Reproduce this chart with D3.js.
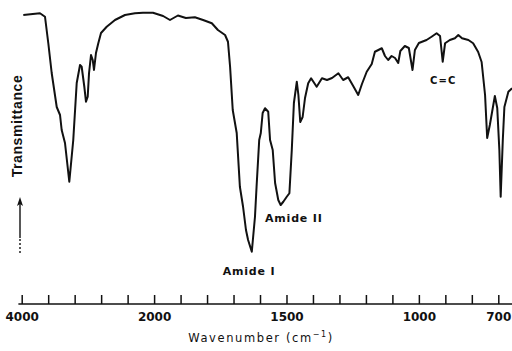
<!DOCTYPE html>
<html>
<head>
<meta charset="utf-8">
<script src="https://cdn.jsdelivr.net/npm/d3@7"></script>
<style>
  body { margin: 0; background: #fff; }
  svg { display: block; }
</style>
</head>
<body>
<div id="chart"></div>
<script>
// spectrum (wavenumber in cm-1, transmittance in arbitrary %)
var wavenumber = [3976, 3724, 3648, 3598, 3547, 3471, 3421, 3396, 3346, 3281,
  3221, 3169, 3119, 3094, 3054, 3029, 3003, 2983, 2953, 2927,
  2908, 2878, 2843, 2802, 2716, 2591, 2440, 2289, 2168, 2017,
  1966, 1940, 1910, 1880, 1846, 1815, 1782, 1759, 1732, 1721,
  1713, 1703, 1688, 1676, 1664, 1653, 1645, 1631, 1619, 1613,
  1603, 1597, 1590, 1581, 1569, 1562, 1552, 1543, 1531, 1522,
  1512, 1499, 1489, 1480, 1472, 1461, 1455, 1448, 1439, 1430,
  1418, 1407, 1386, 1366, 1347, 1328, 1304, 1286, 1267, 1248,
  1229, 1215, 1197, 1178, 1166, 1153, 1140, 1128, 1116, 1103,
  1090, 1078, 1070, 1053, 1038, 1024, 1015, 1000, 971, 952,
  933, 920, 910, 901, 883, 864, 851, 837, 813, 795,
  776, 763, 750, 742, 732, 713, 704, 696, 691, 683,
  677, 662, 648];
var transmittance = [98, 98.7, 97.3, 86.7, 74.8, 61.2, 58, 52, 46.8, 31.3,
  48, 70.8, 78, 77.3, 69.3, 63.3, 65.3, 74.7, 82, 80,
  76, 82.8, 86.7, 90.8, 93.3, 96, 98, 98.7, 98.9, 98.9,
  97.6, 96, 97.8, 96.8, 97.1, 96, 94.7, 92, 90, 87.3,
  77.3, 60, 50.8, 29.3, 21.3, 12, 8, 3.3, 17.3, 29.3,
  48, 50.8, 58.8, 60.7, 59.3, 48, 44, 30.8, 24, 22,
  23.3, 25.3, 26.7, 44, 62.8, 71.3, 66, 55.2, 57.2, 64.8,
  70.7, 72.7, 69.3, 72.7, 72, 72.8, 74.7, 72, 73.1, 69.6,
  66, 70.4, 75.3, 78.4, 83.3, 84, 84.7, 81.6, 80, 81.6,
  80.8, 78.8, 83.6, 85.6, 84.8, 76, 84, 86.8, 88, 89.3,
  90.7, 89.6, 79.3, 86.7, 88, 88.7, 90, 88.7, 88, 86.7,
  83.2, 79.2, 66, 48.8, 54, 65.6, 60.8, 44, 25.3, 48,
  61.2, 67.3, 68.7];

// ticks: every 400 above 2000, every 100 below
var tickValues = [4000, 3600, 3200, 2800, 2400, 2000, 1900, 1800, 1700, 1600,
  1500, 1400, 1300, 1200, 1100, 1000, 900, 800, 700];
var tickLabels = [4000, 2000, 1500, 1000, 700];

// band annotations (where the label text starts)
var bandNames = ["Amide I", "Amide II", "C=C"];
var bandWn = [1741, 1581, 958];
var bandT = [-6, 15.2, 70.4];

var svgWidth = 512;
var svgHeight = 351;
var axisY = 304;

var svg = d3.select("#chart")
  .append("svg")
  .attr("width", svgWidth)
  .attr("height", svgHeight);

// x scale changes at 2000 cm-1 like the instrument chart
var xScale = d3.scaleLinear()
  .domain([4000, 2000, 700])
  .range([21.7, 154.1, 498.3]);

var yScale = d3.scaleLinear()
  .domain([0, 100])
  .range([260, 10]);

var data = wavenumber.map(function(w, i) {
  return { wn: w, t: transmittance[i] };
});

// spectrum
var line = d3.line()
  .x(d => xScale(d.wn))
  .y(d => yScale(d.t));

svg.append("path")
  .datum(data)
  .attr("d", line)
  .attr("fill", "none")
  .attr("stroke", "#111")
  .attr("stroke-width", 2)
  .attr("stroke-linejoin", "round");

// bottom axis, ticks point up
var bottomAxis = d3.axisBottom(xScale)
  .tickValues(tickValues)
  .tickSizeInner(-9)
  .tickSizeOuter(0)
  .tickPadding(8)
  .tickFormat(d => tickLabels.indexOf(d) >= 0 ? d : "");

var axisG = svg.append("g")
  .attr("transform", `translate(0, ${axisY})`)
  .call(bottomAxis);

axisG.select(".domain").remove();
axisG.selectAll(".tick line")
  .attr("stroke", "#111")
  .attr("stroke-width", 1.5);
axisG.selectAll(".tick text")
  .attr("fill", "#111")
  .style("font-family", "'DejaVu Sans', sans-serif")
  .style("font-size", "12px")
  .style("font-weight", "bold");

axisG.append("line")
  .attr("x1", xScale(4050))
  .attr("x2", xScale(648))
  .attr("y1", 0)
  .attr("y2", 0)
  .attr("stroke", "#111")
  .attr("stroke-width", 1.5);

// x title
var xTitle = svg.append("text")
  .attr("x", 261)
  .attr("y", 342)
  .attr("text-anchor", "middle")
  .attr("fill", "#111")
  .style("font-family", "'DejaVu Sans', sans-serif")
  .style("font-size", "11.5px")
  .style("letter-spacing", "1.6px");
xTitle.append("tspan").text("Wavenumber (cm");
xTitle.append("tspan").attr("dy", -5).style("font-size", "8px").text("−1");
xTitle.append("tspan").attr("dy", 5).text(")");

// y title
svg.append("text")
  .attr("transform", "translate(22, 126) rotate(-90)")
  .attr("text-anchor", "middle")
  .attr("fill", "#111")
  .style("font-family", "'Liberation Sans', Arial, sans-serif")
  .style("font-size", "14px")
  .style("font-weight", "bold")
  .style("letter-spacing", "0.6px")
  .text("Transmittance");

// arrow under the y title
svg.append("line")
  .attr("x1", 20).attr("x2", 20)
  .attr("y1", 238).attr("y2", 203)
  .attr("stroke", "#111")
  .attr("stroke-width", 1.4);
svg.append("line")
  .attr("x1", 20).attr("x2", 20)
  .attr("y1", 253).attr("y2", 238)
  .attr("stroke", "#111")
  .attr("stroke-width", 1.4)
  .attr("stroke-dasharray", "2,2");
svg.append("path")
  .attr("d", "M17,206 L20,197 L23,206 L20,204 Z")
  .attr("fill", "#111");

// band labels
svg.selectAll("text.band")
  .data(bandNames)
  .enter()
  .append("text")
  .attr("class", "band")
  .attr("x", (d, i) => xScale(bandWn[i]))
  .attr("y", (d, i) => yScale(bandT[i]))
  .attr("fill", "#111")
  .style("font-family", "'DejaVu Sans', sans-serif")
  .style("font-weight", "bold")
  .style("font-size", (d, i) => i == 2 ? "10px" : "11px")
  .style("letter-spacing", (d, i) => i == 2 ? "1.2px" : "0.8px")
  .text(d => d);
</script>
</body>
</html>
